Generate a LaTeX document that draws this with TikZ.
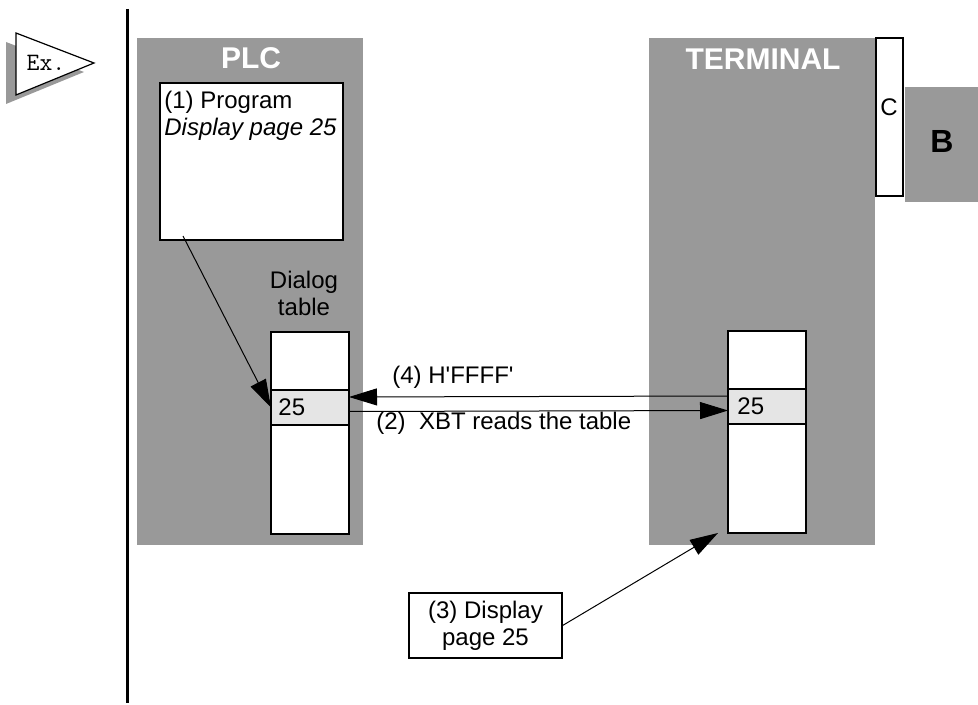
\documentclass[tikz,border=0pt]{standalone}
\usepackage{fontspec}
\setmainfont{Liberation Sans}
\usetikzlibrary{arrows.meta,positioning}
\definecolor{panelgray}{HTML}{999999}
\definecolor{rowgray}{HTML}{E5E5E5}

\begin{document}
\begin{tikzpicture}[x=0.5pt,y=-0.5pt,font=\fontsize{12}{13.5}\selectfont,
    panel/.style={fill=panelgray,inner sep=0pt,outer sep=0pt,
                  minimum width=113pt,minimum height=253.5pt},
    head/.style={text=white,font=\fontsize{15}{17}\selectfont\bfseries},
    box/.style={draw,fill=white,line width=1.4pt,inner sep=0pt,outer sep=0pt},
    cell/.style={box,minimum width=39pt},
    arr/.style={-{Triangle[length=14pt,width=8.5pt]},line width=0.5pt},
    lbl/.style={inner sep=0pt,anchor=west}]
  \useasboundingbox (0,0) rectangle (978,705);
  % example flag
  \fill[panelgray] (6,42) -- (84,72) -- (6,104) -- cycle;
  \draw[fill=white,line width=0.6pt] (16,33) -- (94,63) -- (16,95) -- cycle;
  \node[font=\ttfamily\fontsize{12.5}{13}\selectfont] (ex) at (46,63) {Ex.};
  \draw[line width=1.5pt] (127,9) -- (127,703);
  % PLC side
  \node[panel] (plc) at (250,291.5) {};
  \node[head] (plct) at (251,58) {PLC};
  \node[box,minimum width=91.5pt,minimum height=78.5pt] (prog) at (251.5,161.5) {};
  \node[lbl,anchor=north west,align=left] (progt) at (164,91) {(1) Program\\\textit{Display page 25}};
  \node[align=center,inner sep=0pt] (dlg) at (304,293) {Dialog\\table};
  \node[cell,minimum height=29pt] (top1) at (310,361) {};
  \node[cell,fill=rowgray,minimum height=17.5pt,below=0pt of top1] (row1) {};
  \node[cell,minimum height=54.5pt,below=0pt of row1] (bot1) {};
  \node[lbl] (v1) at ([xshift=3.5pt]row1.west) {25};
  % terminal side
  \node[panel] (term) at (762,291.5) {};
  \node[head] (termt) at (763,59) {TERMINAL};
  \node[cell,minimum height=29pt] (top2) at (767,360) {};
  \node[cell,fill=rowgray,minimum height=17.5pt,below=0pt of top2] (row2) {};
  \node[cell,minimum height=54.5pt,below=0pt of row2] (bot2) {};
  \node[lbl] (v2) at ([xshift=4.5pt]row2.west) {25};
  \node[box,minimum width=13.5pt,minimum height=79pt] (cstrip) at (889.5,117) {};
  \node (ct) at (889,107) {C};
  \node[fill=panelgray,inner sep=0pt,minimum width=36.5pt,minimum height=57.5pt] (bbox) at (941.5,144.5) {};
  \node[font=\fontsize{16}{18}\selectfont\bfseries] (bt) at (942,141) {B};
  % display request
  \node[draw,line width=0.6pt,inner sep=0pt,align=center,
        minimum width=76.5pt,minimum height=32.5pt] (disp) at (485.5,625.5) {(3) Display\\page 25};
  \coordinate (p1) at (183,236);
  \coordinate (t3) at (718,533);
  \draw[arr] (p1) -- (row1.west);
  \draw[arr] ([yshift=5.25pt]row2.west) -- ([yshift=5.25pt]row1.east);
  \draw[arr] ([yshift=-2pt]row1.east) -- ([yshift=-2pt]row2.west);
  \node[lbl] (l4) at (392,377) {(4) H\textquotesingle FFFF\textquotesingle};
  \node[lbl] (l2) at (376,423) {(2)~ XBT reads the table};
  \draw[arr] (disp.east) -- (t3);
\end{tikzpicture}
\end{document}
